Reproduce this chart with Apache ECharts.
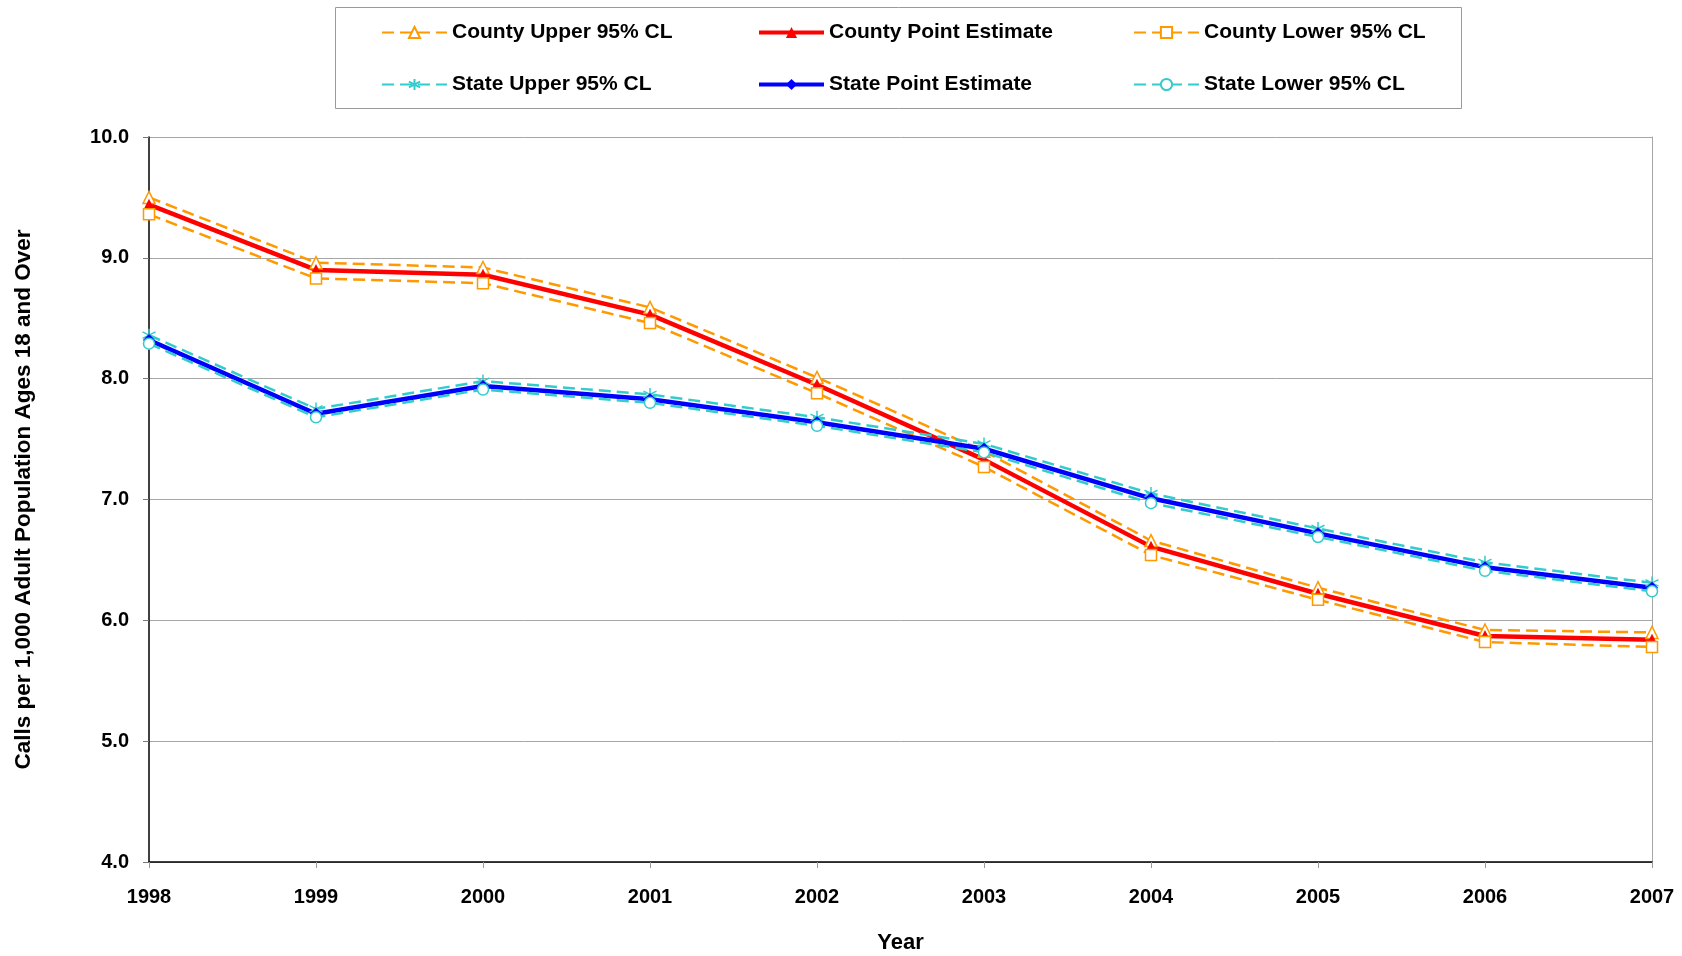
<!DOCTYPE html>
<html>
<head>
<meta charset="utf-8">
<script src="https://cdn.jsdelivr.net/npm/echarts@6/dist/echarts.min.js"></script>
<style>html,body{margin:0;padding:0;background:#fff}#c{width:1682px;height:956px}</style>
</head>
<body>
<div id="c"></div>
<script>
const years = ['1998','1999','2000','2001','2002','2003','2004','2005','2006','2007'];
const countyUpper = [9.50, 8.96, 8.92, 8.59, 8.01, 7.40, 6.66, 6.27, 5.92, 5.90];
const countyPoint = [9.44, 8.90, 8.86, 8.53, 7.95, 7.33, 6.61, 6.22, 5.87, 5.84];
const countyLower = [9.36, 8.83, 8.79, 8.46, 7.88, 7.27, 6.54, 6.17, 5.82, 5.78];
const stateUpper  = [8.36, 7.75, 7.98, 7.87, 7.68, 7.46, 7.05, 6.76, 6.48, 6.31];
const statePoint  = [8.32, 7.71, 7.94, 7.83, 7.64, 7.42, 7.01, 6.72, 6.44, 6.27];
const stateLower  = [8.29, 7.68, 7.91, 7.80, 7.61, 7.39, 6.97, 6.69, 6.41, 6.24];
const yTicks = [4.0, 5.0, 6.0, 7.0, 8.0, 9.0, 10.0];

const FONT = 'Arial, "Liberation Sans", sans-serif';
const ORANGE = '#FF9900', RED = '#FF0000', BLUE = '#0000FF', TEAL = '#33CCCC';
const ASTERISK = 'path://M0,-10L0,10M-8.66,-5L8.66,5M-8.66,5L8.66,-5';

const chart = echarts.init(document.getElementById('c'));

function dashedSeries(name, data, color, symbol, size) {
  return {
    name, type: 'line', data,
    symbol, symbolSize: size,
    showSymbol: true,
    lineStyle: { color, width: 2.5, type: [12, 6] },
    itemStyle: { color: '#fff', borderColor: color, borderWidth: 1.5 },
    emphasis: { disabled: true }
  };
}
function solidSeries(name, data, color, symbol, size) {
  return {
    name, type: 'line', data,
    symbol, symbolSize: size,
    lineStyle: { color, width: 4.5 },
    itemStyle: { color, borderColor: color, borderWidth: 0 },
    emphasis: { disabled: true }
  };
}

const legendText = { fontFamily: FONT, fontWeight: 'bold', fontSize: 21, color: '#000' };
function leg(name, left, top, solid) {
  const item = { name };
  if (solid) item.lineStyle = { width: 4 };
  return { data: [item], left, top, itemWidth: 65, itemHeight: 14, padding: 0, textStyle: legendText, selectedMode: false };
}

chart.setOption({
  animation: false,
  backgroundColor: '#fff',
  textStyle: { fontFamily: FONT },
  graphic: [{
    type: 'rect', shape: { x: 335.5, y: 7.5, width: 1126, height: 101 },
    style: { fill: 'none', stroke: '#9a9a9a', lineWidth: 1 }, z: -1
  }],
  legend: [
    leg('County Upper 95% CL', 381, 22, false),
    leg('County Point Estimate', 757, 22, true),
    leg('County Lower 95% CL', 1133, 22, false),
    leg('State Upper 95% CL', 381, 74, false),
    leg('State Point Estimate', 757, 74, true),
    leg('State Lower 95% CL', 1133, 74, false)
  ],
  grid: { left: 149, right: 30, top: 137, bottom: 94, containLabel: false, outerBoundsMode: 'none' },
  xAxis: {
    type: 'category', data: years, boundaryGap: false,
    name: 'Year', nameLocation: 'middle', nameGap: 70,
    nameTextStyle: { fontFamily: FONT, fontWeight: 'bold', fontSize: 22, color: '#000' },
    axisLine: { lineStyle: { color: '#000', width: 1.5 } },
    axisTick: { show: true, length: 6, lineStyle: { color: '#999' } },
    axisLabel: { margin: 25, fontFamily: FONT, fontWeight: 'bold', fontSize: 20, color: '#000' },
    splitLine: { show: false }
  },
  yAxis: [{
    type: 'value', min: yTicks[0], max: yTicks[yTicks.length - 1], interval: 1,
    name: 'Calls per 1,000 Adult Population Ages 18 and Over',
    nameLocation: 'middle', nameGap: 114, nameRotate: 90,
    nameTextStyle: { fontFamily: FONT, fontWeight: 'bold', fontSize: 22.5, color: '#000' },
    axisLine: { show: true, lineStyle: { color: '#000', width: 1.5 } },
    axisTick: { show: true, length: 6, lineStyle: { color: '#777' } },
    axisLabel: { margin: 20, fontFamily: FONT, fontWeight: 'bold', fontSize: 20, color: '#000',
      formatter: v => v.toFixed(1) },
    splitLine: { show: true, lineStyle: { color: '#a6a6a6', width: 1 } }
  }, {
    type: 'value', min: yTicks[0], max: yTicks[yTicks.length - 1], interval: 1, position: 'right',
    axisLine: { show: true, lineStyle: { color: '#a6a6a6', width: 1 } },
    axisTick: { show: false }, axisLabel: { show: false }, splitLine: { show: false }
  }],
  series: [
    dashedSeries('County Upper 95% CL', countyUpper, ORANGE, 'triangle', 12),
    solidSeries('County Point Estimate', countyPoint, RED, 'triangle', 12),
    dashedSeries('County Lower 95% CL', countyLower, ORANGE, 'rect', 11),
    dashedSeries('State Upper 95% CL', stateUpper, TEAL, ASTERISK, 13),
    solidSeries('State Point Estimate', statePoint, BLUE, 'diamond', 12),
    dashedSeries('State Lower 95% CL', stateLower, TEAL, 'circle', 11)
  ]
});
</script>
</body>
</html>
